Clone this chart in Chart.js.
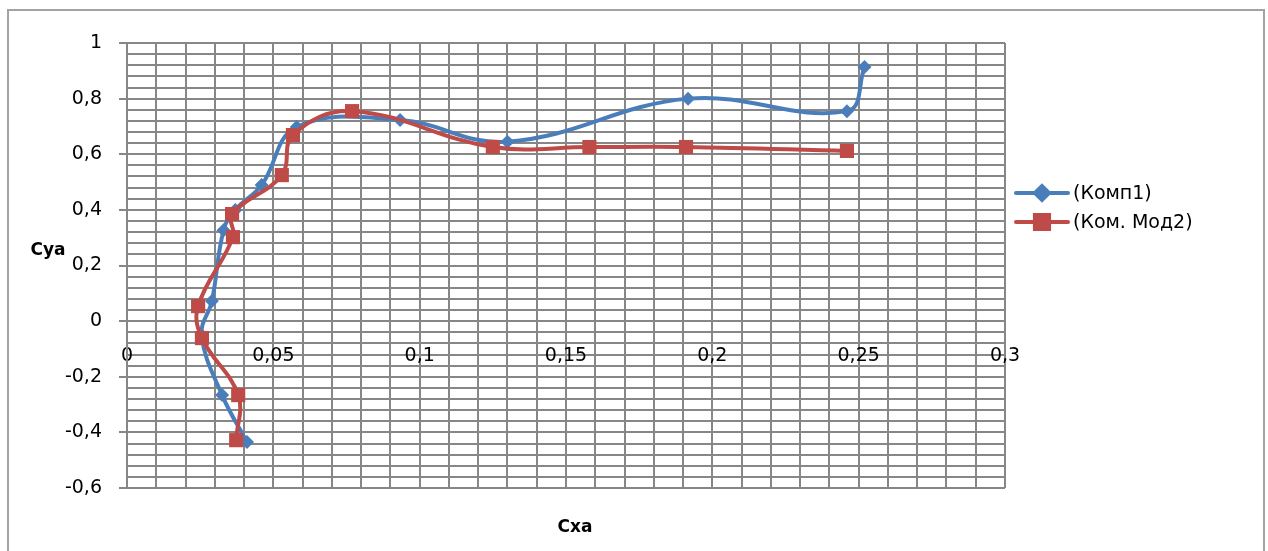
<!DOCTYPE html>
<html>
<head>
<meta charset="utf-8">
<script src="https://cdn.jsdelivr.net/npm/chart.js@4/dist/chart.umd.min.js"></script>
<style>
  body { margin: 0; background: #fff; }
</style>
</head>
<body>
<canvas id="chart" width="1268" height="551"></canvas>
<script>
// Cxa / Cya polar data
var kompX = [0.041, 0.0325, 0.0255, 0.029, 0.033, 0.037, 0.046, 0.058, 0.0933, 0.130, 0.1917, 0.246, 0.252]
var kompY = [-0.435, -0.266, -0.05, 0.072, 0.327, 0.40, 0.489, 0.698, 0.723, 0.645, 0.80, 0.755, 0.914]

var modX = [0.0373, 0.038, 0.0256, 0.0243, 0.0362, 0.0359, 0.0529, 0.0567, 0.0769, 0.125, 0.158, 0.191, 0.246]
var modY = [-0.428, -0.266, -0.061, 0.054, 0.302, 0.385, 0.525, 0.669, 0.755, 0.626, 0.626, 0.626, 0.612]

var seriesNames = ['(Комп1)', '(Ком. Мод2)']
var xTitle = 'Cxa'
var yTitle = 'Cya'

var gridColor = '#878787'
var blue = '#4a7ebb'
var red = '#be4b48'

function toPoints(xs, ys) {
	return xs.map((x, i) => ({x: x, y: ys[i]}))
}

function isMajor(v, step) {
	return Math.abs(v / step - Math.round(v / step)) < 1e-6
}

function fmt(v, digits) {
	return Number(v.toFixed(digits)).toString().replace('.', ',')
}

// border, axis titles and the legend (line + marker like Excel)
var extras = {
	id: 'extras',
	afterDraw(chart) {
		var ctx = chart.ctx
		ctx.save()
		ctx.strokeStyle = '#a3a3a3'
		ctx.lineWidth = 2
		ctx.strokeRect(8, 10, 1256, 600)

		ctx.fillStyle = '#000'
		ctx.font = 'bold 17px "DejaVu Sans"'
		ctx.textAlign = 'center'
		ctx.textBaseline = 'middle'
		ctx.fillText(yTitle, 48, 251)
		ctx.fillText(xTitle, 575, 528)

		var rows = [193, 222]
		chart.data.datasets.forEach((ds, i) => {
			var y = rows[i]
			ctx.strokeStyle = ds.borderColor
			ctx.lineWidth = 4
			ctx.lineCap = 'round'
			ctx.beginPath()
			ctx.moveTo(1016, y)
			ctx.lineTo(1068, y)
			ctx.stroke()
			Chart.helpers.drawPoint(ctx, {pointStyle: ds.pointStyle, radius: ds.pointRadius, borderWidth: 1}, 1042, y)
			ctx.fillStyle = ds.borderColor
			ctx.fill()
			ctx.fillStyle = '#000'
			ctx.font = '19px "DejaVu Sans"'
			ctx.textAlign = 'left'
			ctx.fillText(ds.label, 1073, y + 1)
		})
		ctx.restore()
	}
}

var ctx = document.getElementById('chart').getContext('2d')
var chart = new Chart(ctx, {
	type: 'scatter',
	data: {
		datasets: [{
			label: seriesNames[0],
			data: toPoints(kompX, kompY),
			showLine: true,
			borderColor: blue,
			backgroundColor: blue,
			borderWidth: 4,
			tension: 0.4,
			pointStyle: 'rectRot',
			pointRadius: 7,
			pointBorderWidth: 0,
			order: 2
		}, {
			label: seriesNames[1],
			data: toPoints(modX, modY),
			showLine: true,
			borderColor: red,
			backgroundColor: red,
			borderWidth: 4,
			tension: 0.4,
			pointStyle: 'rect',
			pointRadius: 10,
			pointBorderWidth: 0,
			order: 1
		}]
	},
	plugins: [extras],
	options: {
		responsive: false,
		animation: false,
		layout: {padding: {left: 0, top: 43, right: 263, bottom: 63}},
		plugins: {
			legend: {display: false},
			tooltip: {enabled: false}
		},
		scales: {
			x: {
				type: 'linear',
				position: {y: 0},
				min: 0,
				max: 0.3,
				afterFit: (scale) => { scale.height = 0 },
				ticks: {
					stepSize: 0.01,
					autoSkip: false,
					maxRotation: 0,
					maxTicksLimit: 100,
					padding: 24,
					color: '#000',
					font: {family: 'DejaVu Sans', size: 19},
					callback: (v) => isMajor(v, 0.05) ? fmt(v, 2) : ''
				},
				grid: {color: gridColor, lineWidth: 2, drawTicks: false},
				border: {display: false}
			},
			y: {
				position: 'left',
				min: -0.6,
				max: 1,
				afterFit: (scale) => { scale.width = 127 },
				ticks: {
					stepSize: 0.04,
					autoSkip: false,
					maxTicksLimit: 100,
					padding: 17,
					color: '#000',
					font: {family: 'DejaVu Sans', size: 19},
					callback: (v) => isMajor(v, 0.2) ? fmt(v, 1) : ''
				},
				grid: {
					color: gridColor,
					lineWidth: 2,
					tickLength: 8,
					tickColor: (c) => c.tick && isMajor(c.tick.value, 0.2) ? gridColor : 'rgba(0,0,0,0)'
				},
				border: {color: gridColor, width: 2}
			}
		}
	}
});
</script>
</body>
</html>
